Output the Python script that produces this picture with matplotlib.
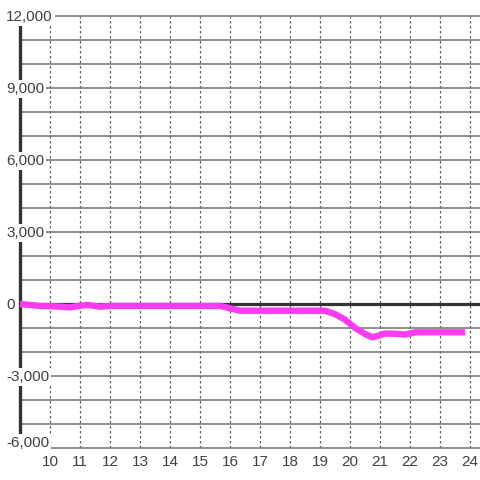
import matplotlib
matplotlib.use("Agg")
import matplotlib.pyplot as plt
from matplotlib.ticker import MultipleLocator

# ---- data ----
hours = [9.0, 9.33, 9.67, 10.0, 10.33, 10.67, 11.0, 11.25, 11.67, 12.0,
         15.67, 16.0, 16.33, 19.17, 19.5, 19.83, 20.17, 20.5, 20.75,
         21.17, 21.5, 21.83, 22.17, 23.83]
values = [0, -40, -80, -90, -110, -140, -70, -40, -110, -80,
          -80, -180, -280, -280, -420, -650, -1000, -1250, -1390,
          -1230, -1240, -1270, -1180, -1180]

x_ticks = list(range(10, 25))
y_ticks = [-6000, -3000, 0, 3000, 6000, 9000, 12000]
y_labels = ["-6,000", "-3,000", "0", "3,000", "6,000", "9,000", "12,000"]

TXT = "#404040"
plt.rcParams["font.family"] = ["Liberation Sans", "DejaVu Sans"]

fig = plt.figure(figsize=(4.8, 4.8), dpi=100)
ax = fig.add_axes([20 / 480, 32 / 480, 460 / 480, 432 / 480])
ax.set_xlim(9, 9 + 460 / 30)
ax.set_ylim(-6000, 12000)

for s in ["top", "right", "bottom"]:
    ax.spines[s].set_visible(False)
ax.spines["left"].set_linewidth(2.4)
ax.spines["left"].set_color("#333333")
ax.spines["left"].set_zorder(3)

# grid
ax.yaxis.set_major_locator(MultipleLocator(1000))
ax.yaxis.grid(True, color="#707070", linewidth=1.1, zorder=1)
ax.set_xticks(x_ticks)
ax.xaxis.grid(True, color="#606060", linewidth=0.9, linestyle=(0, (2, 2)), zorder=1)
for gl in ax.get_ygridlines():
    gl.set_clip_on(False)
ax.tick_params(axis="both", length=0)
ax.set_yticklabels([])
ax.set_xticklabels([str(h) for h in x_ticks], fontsize=11, color=TXT)
ax.tick_params(axis="x", pad=5)

# zero line
ax.axhline(0, color="#333333", linewidth=2.3, zorder=2)

# series
ax.plot(hours, values, color="#f93cf0", linewidth=4.6, solid_capstyle="butt",
        solid_joinstyle="round", zorder=4, clip_on=False)

# y labels with white boxes over the spine
for v, lab in zip(y_ticks, y_labels):
    yy = v if v != -6000 else -5760
    ax.text(9 - 14 / 30, yy - 30, lab, ha="left", va="center", fontsize=11,
            color=TXT, zorder=6, clip_on=False,
            bbox=dict(facecolor="white", edgecolor="none", pad=1.5))

fig.savefig("out.png", dpi=100)
